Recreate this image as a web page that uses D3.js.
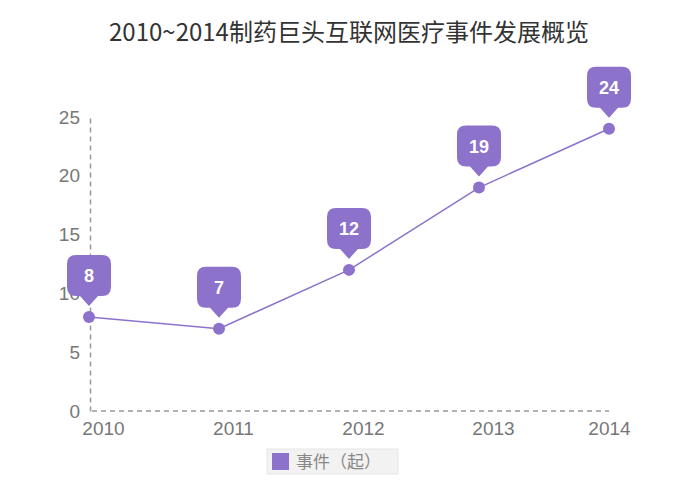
<!DOCTYPE html>
<html><head><meta charset="utf-8">
<script src="https://cdnjs.cloudflare.com/ajax/libs/d3/7.8.5/d3.min.js"></script>
<style>body{margin:0;background:#fff}svg{display:block}</style>
</head><body><svg id="c" width="700" height="488"></svg>
<script>
const title = "2010~2014制药巨头互联网医疗事件发展概览";
const categories = ["2010","2011","2012","2013","2014"];
const values = [8,7,12,19,24];
const seriesName = "事件（起）";
const yTicks = [0,5,10,15,20,25];

const svg = d3.select("#c");
const font = "'Liberation Sans', Arial, 'Noto Sans CJK SC', sans-serif";
const color = "#8c72cb";
const x = d3.scalePoint().domain(categories).range([89,609]);
const y = d3.scaleLinear().domain([0,25]).range([411,117]);

svg.append("text").attr("x",349).attr("y",41).attr("text-anchor","middle")
  .attr("font-family","'Noto Sans CJK SC', sans-serif").attr("font-size",24).attr("fill","#333").text(title);

// axes
const ya = svg.append("g").attr("transform","translate(90,0)")
  .call(d3.axisLeft(y).tickValues(yTicks).tickSize(0).tickPadding(10));
ya.select(".domain").attr("stroke","#999").attr("stroke-dasharray","5,4").attr("stroke-width",1.5);
ya.selectAll("text").attr("font-family",font).attr("font-size",19).attr("fill","#777");

const xa = svg.append("g").attr("transform","translate(0,411)")
  .call(d3.axisBottom(x).tickSize(0).tickPadding(11));
xa.select(".domain").attr("d","M92,0H609").attr("stroke","#999").attr("stroke-dasharray","5,4").attr("stroke-width",1.5);
xa.selectAll("text").attr("font-family",font).attr("font-size",19).attr("fill","#777")
  .attr("dx",(d,i)=> i===categories.length-1 ? 0 : 14);

// line
const line = d3.line().x((d,i)=>x(categories[i])).y(d=>y(d));
svg.append("path").datum(values).attr("d",line).attr("fill","none").attr("stroke",color).attr("stroke-width",1.5);
svg.selectAll("circle.pt").data(values).join("circle").attr("class","pt")
  .attr("cx",(d,i)=>x(categories[i])).attr("cy",d=>y(d)).attr("r",6).attr("fill",color);

// bubbles
const g = svg.selectAll("g.bub").data(values).join("g").attr("class","bub")
  .attr("transform",(d,i)=>`translate(${x(categories[i])},${y(d)})`);
g.append("path").attr("fill",color).attr("d",()=>{
  const w=44,h=41,r=9,b=-21,t=b-h,tip=-11;
  return `M${-w/2+r},${t}H${w/2-r}Q${w/2},${t} ${w/2},${t+r}V${b-r}Q${w/2},${b} ${w/2-r},${b}H9L0,${tip}L-9,${b}H${-w/2+r}Q${-w/2},${b} ${-w/2},${b-r}V${t+r}Q${-w/2},${t} ${-w/2+r},${t}Z`;
});
g.append("text").attr("y",-35).attr("text-anchor","middle").attr("font-family",font)
  .attr("font-size",18).attr("font-weight","bold").attr("fill","#fff").text(d=>d);

// legend
const lg = svg.append("g").attr("transform","translate(267,449)");
lg.append("rect").attr("width",131).attr("height",25).attr("fill","#f2f2f2").attr("stroke","#e6e6e6");
lg.append("rect").attr("x",5).attr("y",4).attr("width",17).attr("height",17).attr("fill",color);
lg.append("text").attr("x",29).attr("y",19).attr("font-family","'Noto Sans CJK SC', sans-serif")
  .attr("font-size",17).attr("fill","#888").text(seriesName);
</script></body></html>
